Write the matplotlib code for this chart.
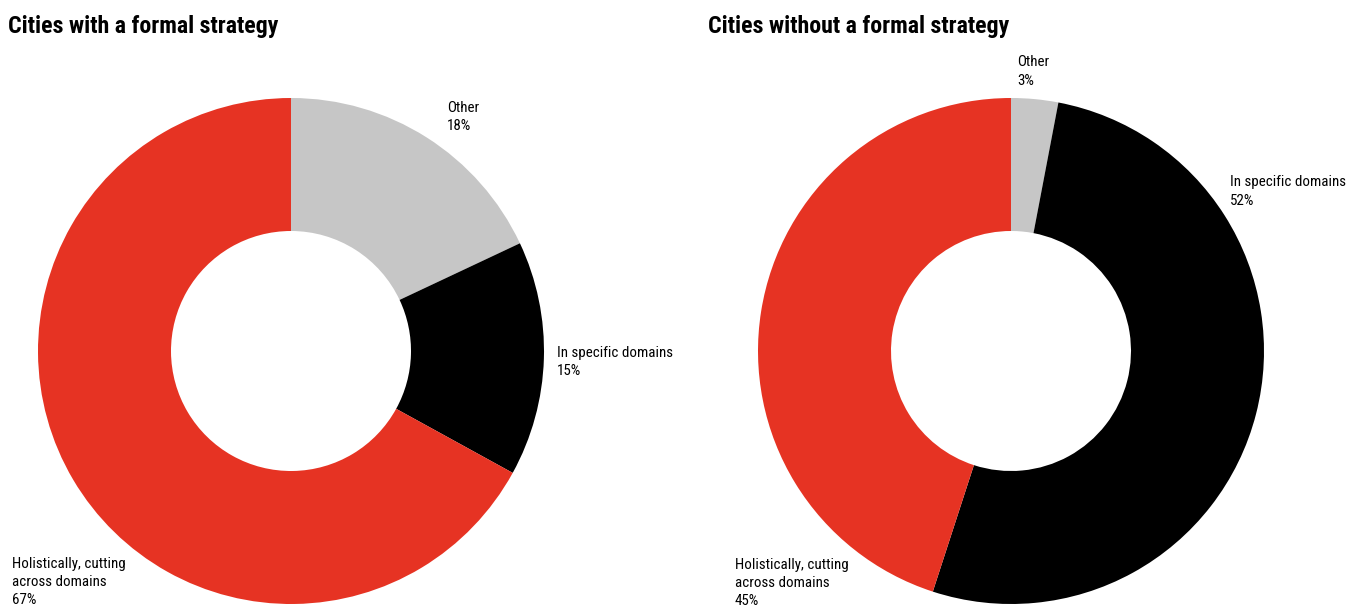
import matplotlib.pyplot as plt

W, H = 1356, 608

categories = ['Other', 'In specific domains', 'Holistically, cutting\nacross domains']
with_strategy = [18, 15, 67]
without_strategy = [3, 52, 45]
colors = ['#c6c6c6', '#000000', '#e63323']

title_font = 'Roboto Condensed'
label_font = 'Roboto Condensed'

fig = plt.figure(figsize=(W / 100, H / 100), dpi=100)


def px_axes(cx, cy, r):
    return fig.add_axes([(cx - r) / W, (H - cy - r) / H, 2 * r / W, 2 * r / H])


def donut(ax, values):
    ax.pie(values, colors=colors, startangle=90, counterclock=False, radius=1,
           wedgeprops=dict(width=133 / 253, linewidth=0))
    ax.set_xlim(-1, 1)
    ax.set_ylim(-1, 1)
    ax.set_aspect('equal')
    ax.axis('off')


def label(x, y, name, value):
    return fig.text(x / W, 1 - y / H, '%s\n%d%%' % (name, value), fontsize=10.8,
                    family=label_font, va='center', ha='left', linespacing=1.38)


def fit_width(t, target_px):
    # scale font so the drawn text spans target_px
    r = fig.canvas.get_renderer()
    w = t.get_window_extent(renderer=r).width
    t.set_fontsize(t.get_fontsize() * target_px / w)


ax1 = px_axes(291, 351, 253)
donut(ax1, with_strategy)
ax2 = px_axes(1011, 351, 253)
donut(ax2, without_strategy)

t1 = fig.text(8 / W, 1 - 27 / H, 'Cities with a formal strategy', fontsize=17,
              fontweight='bold', family=title_font, va='center')
t2 = fig.text(708 / W, 1 - 27 / H, 'Cities without a formal strategy', fontsize=17,
              fontweight='bold', family=title_font, va='center')
fit_width(t1, 270)
t2.set_fontsize(t1.get_fontsize())

# left donut labels
label(447, 117, categories[0], with_strategy[0])
label(557, 362, categories[1], with_strategy[1])
label(12, 582, categories[2], with_strategy[2])

# right donut labels
label(1017, 71.5, categories[0], without_strategy[0])
label(1230, 191.5, categories[1], without_strategy[1])
label(735, 583, categories[2], without_strategy[2])

fig.savefig('out.png', dpi=100)
